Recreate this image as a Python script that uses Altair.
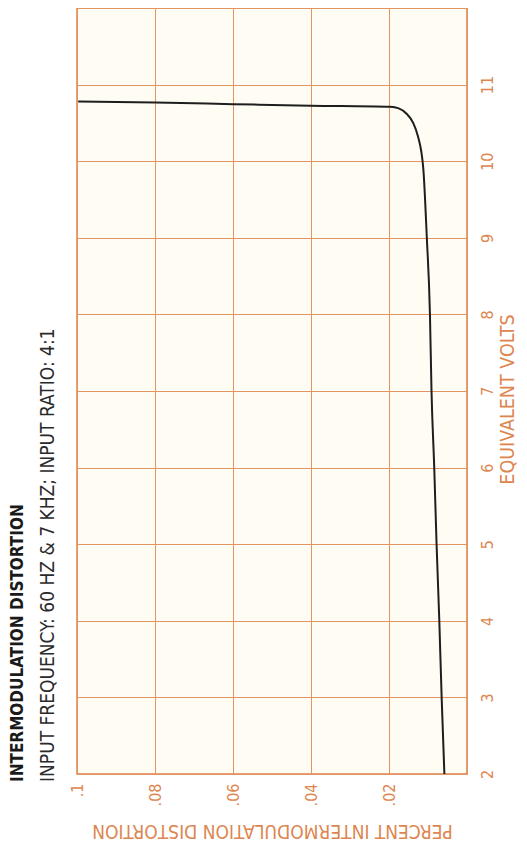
import altair as alt
import pandas as pd

# Curve: equivalent volts vs percent IM distortion
volts = [2.0, 3.0, 4.0, 5.0, 6.0, 7.0, 8.0, 9.0, 9.9, 10.12, 10.33, 10.5, 10.62, 10.69, 10.71, 10.725, 10.745, 10.765, 10.78]
percent = [0.0058, 0.0065, 0.0071, 0.0078, 0.0084, 0.0091, 0.0095, 0.0103, 0.0112, 0.0117, 0.0126, 0.0138, 0.0155, 0.0175, 0.0197, 0.04, 0.06, 0.08, 0.0997]

volt_ticks = [2, 3, 4, 5, 6, 7, 8, 9, 10, 11, 12]
pct_ticks = [0.0, 0.02, 0.04, 0.06, 0.08, 0.1]

title_text = "INTERMODULATION DISTORTION"
subtitle_text = "INPUT FREQUENCY: 60 HZ & 7 KHZ; INPUT RATIO: 4:1"
x_title = "PERCENT INTERMODULATION DISTORTION"
y_title = "EQUIVALENT VOLTS"

df = pd.DataFrame({"volts": volts, "percent": percent})

FONT = "DejaVu Sans Condensed, Liberation Sans Narrow, Roboto Condensed, DejaVu Sans, sans-serif"
ORANGE = "#dd8650"
GRID = "#e39462"

chart = alt.Chart(df).mark_line(color="#1e1e1e", strokeWidth=2, interpolate="monotone").encode(
    x=alt.X("percent:Q",
            scale=alt.Scale(domain=[0, 0.1], reverse=True, nice=False, zero=False),
            axis=alt.Axis(values=pct_ticks, orient="bottom", title=x_title,
                          labelExpr="datum.value == 0 ? '' : substring(format(datum.value, '.2~f'), 1)",
                          labelAngle=270, labelAlign="right", labelBaseline="middle",
                          labelPadding=9, labelFontSize=16, labelFont=FONT, labelColor=ORANGE,
                          titleAngle=180, titleBaseline="bottom", titleFont=FONT, titleFontSize=19,
                          titleFontWeight="normal", titleColor=ORANGE, titlePadding=15,
                          ticks=False, domain=False, grid=True, gridColor=GRID, gridWidth=1,
                          gridOpacity=1)),
    y=alt.Y("volts:Q",
            scale=alt.Scale(domain=[2, 12], nice=False, zero=False),
            axis=alt.Axis(values=volt_ticks, orient="right", title=y_title,
                          labelExpr="datum.value == 12 ? '' : datum.value",
                          labelAngle=270, labelAlign="center", labelBaseline="top",
                          labelPadding=12, labelFontSize=16, labelFont=FONT, labelColor=ORANGE,
                          titleAngle=270, titleBaseline="top", titleFont=FONT, titleFontSize=19.5,
                          titleFontWeight="normal", titleColor=ORANGE, titlePadding=3,
                          titleY=391,
                          ticks=False, domain=False, grid=True, gridColor=GRID, gridWidth=1,
                          gridOpacity=1)),
    order="volts:Q",
).properties(
    width=390,
    height=766,
    autosize=alt.AutoSizeParams(type="none"),
    padding={"left": 69, "top": 0, "right": 52, "bottom": 72},
    background="#ffffff",
    title=alt.TitleParams(
        text=title_text,
        subtitle=subtitle_text,
        orient="left",
        anchor="start",
        frame="group",
        angle=270,
        dx=-8,
        font=FONT,
        fontSize=17,
        fontWeight="bold",
        color="#1a1a1a",
        subtitleFont=FONT,
        subtitleFontSize=19,
        subtitleColor="#2a2a2a",
        subtitlePadding=12,
        offset=10,
    ),
).configure_view(
    fill="#fffdf3",
    stroke="#d9824c",
    strokeWidth=1.5,
)

chart.save("out.html", embed_options={"renderer": "svg", "actions": False})
